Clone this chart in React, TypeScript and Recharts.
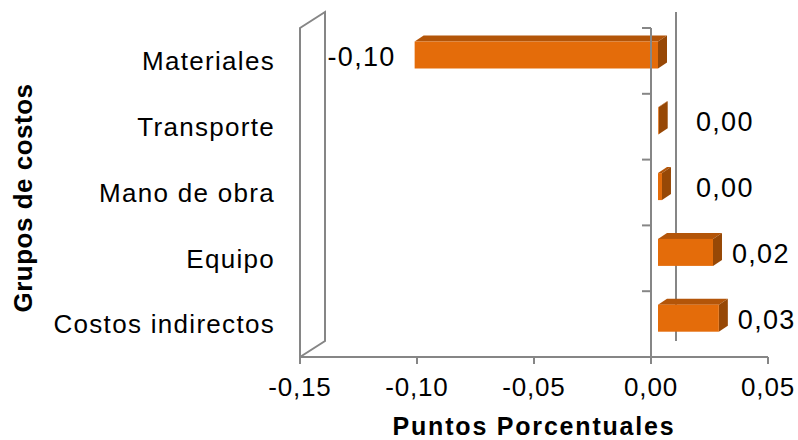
import { BarChart, Bar, XAxis, YAxis, ReferenceLine, Label } from "recharts";

const CATEGORIES = ["Materiales", "Transporte", "Mano de obra", "Equipo", "Costos indirectos"];
const VALUES = [-0.104, 0.0003, 0.0017, 0.0235, 0.026];
const X_TICKS = [-0.15, -0.1, -0.05, 0, 0.05];

const data = CATEGORIES.map((name, i) => ({ name, value: VALUES[i] }));

const FONT = "'Liberation Sans', Arial, sans-serif";
const GRAY = "#868686";
const FRONT = "#E46C0A";
const TOP = "#B35509";
const SIDE = "#974806";

// fake 3d: bars sit a little into the depth, box + wall offsets
const SHIFT_X = 7;
const SHIFT_Y = -5.5;
const DEPTH_X = 9;
const DEPTH_Y = 6;
const WALL_X = 25;
const WALL_Y = 16;

const fmt = (v: number) => v.toFixed(2).replace(".", ",");

function Box3D(props: any) {
  const { x, y, width, height, payload } = props;
  const l = Math.min(x, x + width) + SHIFT_X;
  const r = Math.max(x, x + width) + SHIFT_X;
  const t = y + SHIFT_Y;
  const b = t + height;
  const v = payload.value as number;
  const neg = v < 0;
  const tx = neg ? l - 19 : Math.max(r + 19, l + 38);
  return (
    <g>
      <polygon
        points={`${l},${t} ${l + DEPTH_X},${t - DEPTH_Y} ${r + DEPTH_X},${t - DEPTH_Y} ${r},${t}`}
        fill={TOP}
      />
      <polygon
        points={`${r},${t} ${r + DEPTH_X},${t - DEPTH_Y} ${r + DEPTH_X},${b - DEPTH_Y} ${r},${b}`}
        fill={SIDE}
      />
      <rect x={l} y={t} width={r - l} height={height} fill={FRONT} />
      <text
        x={tx}
        y={t + height / 2 + 1.5}
        textAnchor={neg ? "end" : "start"}
        dominantBaseline="central"
        fontFamily={FONT}
        fontSize={27}
        letterSpacing={1.3}
        fill="#000"
      >
        {fmt(v)}
      </text>
    </g>
  );
}

const sideWall = (p: any) => {
  const top = Math.min(p.y1, p.y2);
  const bot = Math.max(p.y1, p.y2);
  const x = p.x1;
  return (
    <polygon
      points={`${x},${top} ${x + WALL_X},${top - WALL_Y} ${x + WALL_X},${bot - WALL_Y} ${x},${bot}`}
      fill="none"
      stroke={GRAY}
      strokeWidth={2}
    />
  );
};

const backZero = (p: any) => {
  const top = Math.min(p.y1, p.y2);
  const bot = Math.max(p.y1, p.y2);
  return (
    <line
      x1={p.x1 + WALL_X}
      x2={p.x1 + WALL_X}
      y1={top - WALL_Y}
      y2={bot - WALL_Y}
      stroke={GRAY}
      strokeWidth={2}
    />
  );
};

const frontAxis = (p: any) => {
  const top = Math.min(p.y1, p.y2);
  const bot = Math.max(p.y1, p.y2);
  const band = (bot - top) / CATEGORIES.length;
  return (
    <g>
      <line x1={p.x1} x2={p.x1} y1={top} y2={bot} stroke={GRAY} strokeWidth={2} />
      {Array.from({ length: CATEGORIES.length + 1 }, (_, i) => (
        <line
          key={i}
          x1={p.x1 - 9}
          x2={p.x1}
          y1={top + i * band}
          y2={top + i * band}
          stroke={GRAY}
          strokeWidth={2}
        />
      ))}
    </g>
  );
};

export default function App() {
  return (
    <div style={{ position: "absolute", left: 0, top: 0, width: 798, height: 440 }}>
      <BarChart
        width={798}
        height={440}
        data={data}
        layout="vertical"
        margin={{ top: 28, right: 30, left: 0, bottom: 0 }}
      >
        <XAxis
          type="number"
          domain={[-0.15, 0.05]}
          ticks={X_TICKS}
          interval={0}
          tickFormatter={fmt}
          height={83}
          axisLine={{ stroke: GRAY, strokeWidth: 2 }}
          tickLine={{ stroke: GRAY, strokeWidth: 2 }}
          tickSize={7}
          tickMargin={14}
          tick={{ fontSize: 26, fill: "#000", fontFamily: FONT, letterSpacing: 0.8 }}
        >
          <Label
            content={({ viewBox }: any) => (
              <text
                x={viewBox.x + viewBox.width / 2}
                y={viewBox.y + 69}
                textAnchor="middle"
                dominantBaseline="central"
                fontFamily={FONT}
                fontWeight="bold"
                fontSize={25}
                letterSpacing={1.8}
                fill="#000"
              >
                Puntos Porcentuales
              </text>
            )}
          />
        </XAxis>
        <YAxis
          type="category"
          dataKey="name"
          width={300}
          interval={0}
          axisLine={false}
          tickLine={false}
          tickSize={6}
          tickMargin={19}
          tick={{ fontSize: 26, fill: "#000", fontFamily: FONT, letterSpacing: 1.3 }}
        >
          <Label
            content={({ viewBox }: any) => {
              const cx = viewBox.x + 23;
              const cy = viewBox.y + viewBox.height / 2 + 5.5;
              return (
                <text
                  x={cx}
                  y={cy}
                  transform={`rotate(-90 ${cx} ${cy})`}
                  textAnchor="middle"
                  dominantBaseline="central"
                  fontFamily={FONT}
                  fontWeight="bold"
                  fontSize={26}
                  letterSpacing={0.5}
                  fill="#000"
                >
                  Grupos de costos
                </text>
              );
            }}
          />
        </YAxis>
        <ReferenceLine x={-0.15} shape={sideWall} zIndex={100} />
        <ReferenceLine x={0} shape={backZero} zIndex={100} />
        <Bar dataKey="value" barSize={27} shape={Box3D} isAnimationActive={false} zIndex={300} />
        <ReferenceLine x={0} shape={frontAxis} zIndex={600} />
      </BarChart>
    </div>
  );
}
